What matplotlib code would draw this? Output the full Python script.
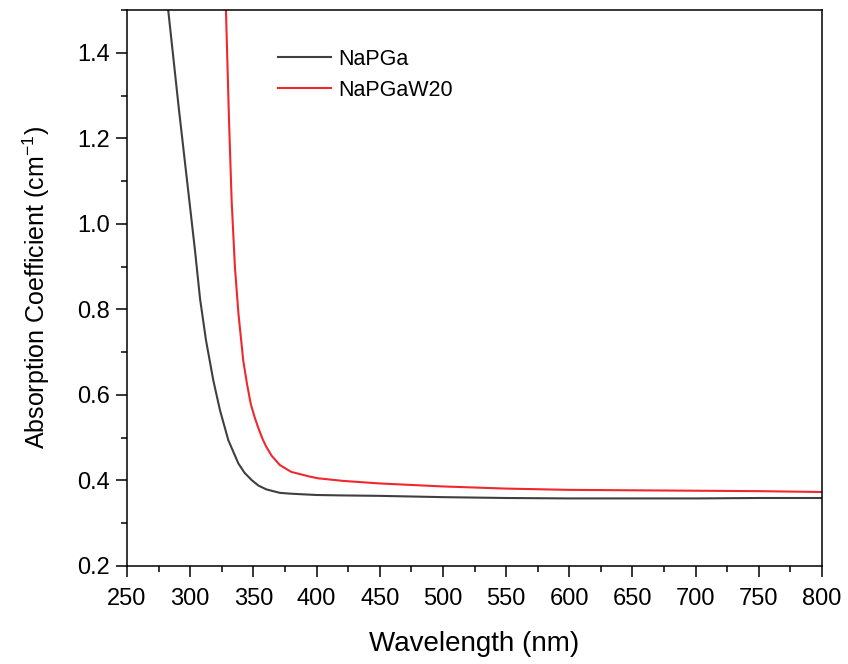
import matplotlib
matplotlib.use("Agg")
from matplotlib import pyplot as plt
from matplotlib.ticker import MultipleLocator, FormatStrFormatter

plt.rcParams['font.family'] = ['Liberation Sans', 'DejaVu Sans']

# absorption edge, NaPGa glass
wl_napga = [278, 282.6, 291, 299.3, 303.8, 307.8, 312.5, 318.3, 323.6, 330.2,
            338.1, 343, 348.6, 354, 360.4, 371, 380, 400, 421, 450,
            500, 550, 600, 650, 700, 750, 800]
ab_napga = [1.62, 1.5, 1.27, 1.055, 0.938, 0.825, 0.728, 0.634, 0.564, 0.494,
            0.44, 0.418, 0.401, 0.388, 0.379, 0.371, 0.369, 0.366, 0.365, 0.364,
            0.361, 0.359, 0.358, 0.358, 0.358, 0.359, 0.359]

# absorption edge, NaPGaW20 glass
wl_w20 = [326.5, 328.3, 330.7, 332.8, 335.4, 338.2, 342, 345, 348, 351,
          354, 357, 360, 364.4, 371, 380, 394.7, 401.3, 421, 450,
          500, 550, 600, 650, 700, 750, 800]
ab_w20 = [1.62, 1.5, 1.245, 1.055, 0.899, 0.79, 0.68, 0.625, 0.578, 0.548,
          0.522, 0.499, 0.48, 0.458, 0.436, 0.42, 0.409, 0.405, 0.399, 0.393,
          0.386, 0.381, 0.378, 0.377, 0.376, 0.375, 0.373]

fig = plt.figure(figsize=(8.48, 6.64), dpi=100)
ax = fig.add_axes([127 / 848, 1 - 566 / 664, 695 / 848, 556 / 664])

ax.plot(wl_napga, ab_napga, color='#3f3f3f', lw=1.5, label='NaPGa')
ax.plot(wl_w20, ab_w20, color='#f0282d', lw=1.5, label='NaPGaW20')

ax.set_xlim(250, 800)
ax.set_ylim(0.2, 1.5)
ax.xaxis.set_major_locator(MultipleLocator(50))
ax.xaxis.set_minor_locator(MultipleLocator(25))
ax.yaxis.set_major_locator(MultipleLocator(0.2))
ax.yaxis.set_minor_locator(MultipleLocator(0.1))
ax.yaxis.set_major_formatter(FormatStrFormatter('%.1f'))

ax.tick_params(which='major', direction='out', length=8, width=1.1, labelsize=17)
ax.tick_params(which='minor', direction='out', length=4.5, width=1.1)
ax.tick_params(axis='x', which='major', pad=8)
ax.tick_params(axis='y', which='major', pad=4)
for s in ax.spines.values():
    s.set_linewidth(1.1)

ax.set_xlabel('Wavelength (nm)', fontsize=20, labelpad=15)
ax.set_ylabel('Absorption Coefficient (cm$^{\\mathregular{-1}}$)', fontsize=18, labelpad=18)

ax.legend(loc='upper left', bbox_to_anchor=(0.217, 0.93), frameon=False,
          borderaxespad=0, borderpad=0, fontsize=15.5, handlelength=2.46,
          handletextpad=0.33, labelspacing=0.45)

plt.savefig('out.png', dpi=100)
